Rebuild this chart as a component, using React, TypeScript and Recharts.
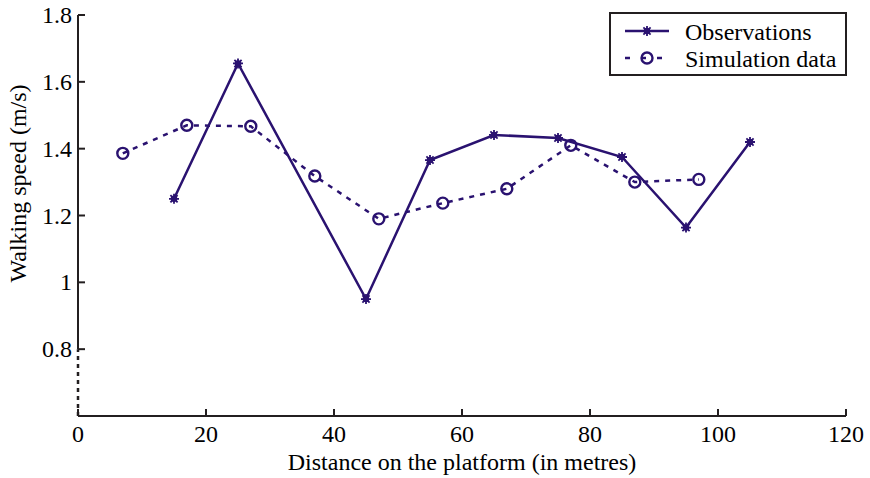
import React from 'react';
import { LineChart, Line, XAxis, YAxis, ReferenceLine, Legend } from 'recharts';

const COLOR = '#2a1270';
const AXIS = '#231f20';
const FONT = '"Liberation Serif", "Times New Roman", serif';
const FS = 24;

const obsX = [15, 25, 45, 55, 65, 75, 85, 95, 105];
const obsY = [1.25, 1.655, 0.95, 1.366, 1.441, 1.432, 1.375, 1.164, 1.42];
const simX = [7, 17, 27, 37, 47, 57, 67, 77, 87, 97];
const simY = [1.386, 1.47, 1.467, 1.318, 1.19, 1.237, 1.28, 1.41, 1.3, 1.308];

const xTicks = [0, 20, 40, 60, 80, 100, 120];
const yTicks = [0.8, 1, 1.2, 1.4, 1.6, 1.8];
const yTickLabels = ['0.8', '1', '1.2', '1.4', '1.6', '1.8'];

const seriesNames = ['Observations', 'Simulation data'];
const xLabel = 'Distance on the platform (in metres)';
const yLabel = 'Walking speed (m/s)';

const obsData = obsX.map((x, i) => ({ x, y: obsY[i] }));
const simData = simX.map((x, i) => ({ x, y: simY[i] }));

const StarDot = (props: any) => {
  const { cx, cy } = props;
  if (cx == null || cy == null) return null;
  const r = 5;
  const d = r * 0.72;
  return (
    <g>
      <circle cx={cx} cy={cy} r={3.3} fill={COLOR} />
      <path
        d={`M${cx - r},${cy}L${cx + r},${cy}M${cx},${cy - r}L${cx},${cy + r}M${cx - d},${cy - d}L${cx + d},${cy + d}M${cx - d},${cy + d}L${cx + d},${cy - d}`}
        stroke={COLOR}
        strokeWidth={1.8}
      />
    </g>
  );
};

const CircleDot = (props: any) => {
  const { cx, cy } = props;
  if (cx == null || cy == null) return null;
  return <circle cx={cx} cy={cy} r={5.5} fill="none" stroke={COLOR} strokeWidth={2.4} />;
};

const XTick = (props: any) => {
  const { x, y, payload } = props;
  return (
    <g>
      <line x1={x} y1={y} x2={x} y2={y - 7} stroke={AXIS} strokeWidth={2} />
      <text x={x} y={y + 18} textAnchor="middle" dominantBaseline="central" fontFamily={FONT} fontSize={FS} fill="#000">
        {payload.value}
      </text>
    </g>
  );
};

const YTick = (props: any) => {
  const { x, y, payload } = props;
  const idx = yTicks.indexOf(payload.value);
  return (
    <g>
      <line x1={x} y1={y} x2={x + 7} y2={y} stroke={AXIS} strokeWidth={2} />
      <text x={x - 6} y={y} textAnchor="end" dominantBaseline="central" fontFamily={FONT} fontSize={FS} fill="#000">
        {idx >= 0 ? yTickLabels[idx] : payload.value}
      </text>
    </g>
  );
};

const LegendBox = () => (
  <svg width={238} height={64} style={{ display: 'block' }}>
    <rect x={1} y={1} width={236} height={62} fill="#fff" stroke={AXIS} strokeWidth={2} />
    <line x1={16} y1={19} x2={60} y2={19} stroke={COLOR} strokeWidth={2.5} />
    <StarDot cx={38} cy={19} />
    <text x={76} y={20} dominantBaseline="central" fontFamily={FONT} fontSize={FS} fill="#000">
      {seriesNames[0]}
    </text>
    <line x1={16} y1={46} x2={60} y2={46} stroke={COLOR} strokeWidth={2.5} strokeDasharray="5 11" strokeDashoffset={0} />
    <CircleDot cx={38} cy={46} />
    <text x={76} y={47} dominantBaseline="central" fontFamily={FONT} fontSize={FS} fill="#000">
      {seriesNames[1]}
    </text>
  </svg>
);

export default function App() {
  return (
    <div style={{ position: 'absolute', left: 0, top: 0, width: 870, height: 478, background: '#fff' }}>
      <LineChart width={870} height={478} margin={{ top: 15, right: 24, bottom: 0, left: 0 }}>
        <XAxis
          type="number"
          dataKey="x"
          domain={[0, 120]}
          ticks={xTicks}
          height={62}
          tickSize={0}
          tickMargin={0}
          tickLine={false}
          axisLine={{ stroke: AXIS, strokeWidth: 2 }}
          tick={<XTick />}
          allowDataOverflow
          label={(p: any) => {
            const vb = p.viewBox || { x: 78, y: 416, width: 768, height: 62 };
            const cx = vb.x + vb.width / 2;
            return (
              <text x={cx} y={462} textAnchor="middle" dominantBaseline="central" fontFamily={FONT} fontSize={FS} fill="#000">
                {xLabel}
              </text>
            );
          }}
        />
        <YAxis
          type="number"
          dataKey="y"
          domain={[0.6, 1.8]}
          ticks={yTicks}
          width={78}
          tickSize={0}
          tickMargin={0}
          tickLine={false}
          axisLine={false}
          tick={<YTick />}
          allowDataOverflow
          label={(p: any) => {
            const vb = p.viewBox || { x: 0, y: 15, width: 78, height: 401 };
            const cx = 18;
            const cy = vb.y + vb.height * 0.42;
            return (
              <text
                x={cx}
                y={cy}
                transform={`rotate(-90, ${cx}, ${cy})`}
                textAnchor="middle"
                dominantBaseline="central"
                fontFamily={FONT}
                fontSize={FS}
                fill="#000"
              >
                {yLabel}
              </text>
            );
          }}
        />
        <ReferenceLine segment={[{ x: 0, y: 0.8 }, { x: 0, y: 1.8 }]} stroke={AXIS} strokeWidth={2} ifOverflow="visible" />
        <ReferenceLine segment={[{ x: 0, y: 0.6 }, { x: 0, y: 0.8 }]} stroke={AXIS} strokeWidth={2.5} strokeDasharray="4 4" ifOverflow="visible" />
        <Line
          data={simData}
          dataKey="y"
          name={seriesNames[1]}
          stroke={COLOR}
          strokeWidth={2.5}
          strokeDasharray="5 6"
          dot={<CircleDot />}
          activeDot={false}
          isAnimationActive={false}
        />
        <Line
          data={obsData}
          dataKey="y"
          name={seriesNames[0]}
          stroke={COLOR}
          strokeWidth={2.5}
          dot={<StarDot />}
          activeDot={false}
          isAnimationActive={false}
        />
        <Legend
          layout="vertical"
          align="center"
          verticalAlign="middle"
          content={() => <LegendBox />}
          wrapperStyle={{ position: 'absolute', left: 609, top: 12, width: 238, height: 64 }}
        />
      </LineChart>
    </div>
  );
}
